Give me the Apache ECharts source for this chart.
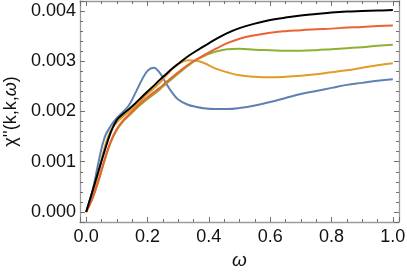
<!DOCTYPE html>
<html>
<head>
<meta charset="utf-8">
<script src="https://cdn.jsdelivr.net/npm/echarts@6/dist/echarts.min.js"></script>
<style>html,body{margin:0;padding:0;background:#fff}#c{width:407px;height:273px}</style>
</head>
<body>
<div id="c"></div>
<script>
const omega  = [0, 0.02, 0.04, 0.06, 0.08, 0.10, 0.12, 0.14, 0.16, 0.18, 0.20, 0.22, 0.24, 0.26, 0.28, 0.30, 0.33, 0.36, 0.39, 0.42, 0.46, 0.50, 0.55, 0.60, 0.65, 0.70, 0.75, 0.80, 0.85, 0.90, 0.95, 1.00];
const blue   = [0, 0.00040, 0.00098, 0.00148, 0.00171, 0.00187, 0.00199, 0.00213, 0.00236, 0.00261, 0.00281, 0.00287, 0.00277, 0.00257, 0.00238, 0.00224, 0.00214, 0.00209, 0.00206, 0.00205, 0.00205, 0.00207, 0.00212, 0.00219, 0.00227, 0.00235, 0.00241, 0.00247, 0.00253, 0.00257, 0.00261, 0.00264];
const orange = [0, 0.00033, 0.00077, 0.00128, 0.00162, 0.00178, 0.00190, 0.00200, 0.00211, 0.00223, 0.00235, 0.00246, 0.00257, 0.00271, 0.00284, 0.00294, 0.00302, 0.00301, 0.00295, 0.00286, 0.00278, 0.00272, 0.00269, 0.00268, 0.00269, 0.00271, 0.00274, 0.00278, 0.00282, 0.00287, 0.00292, 0.00296];
const green  = [0, 0.00026, 0.00061, 0.00102, 0.00138, 0.00163, 0.00180, 0.00192, 0.00204, 0.00215, 0.00225, 0.00234, 0.00244, 0.00255, 0.00265, 0.00275, 0.00290, 0.00303, 0.00312, 0.00319, 0.00324, 0.00325, 0.00323, 0.00322, 0.00321, 0.00321, 0.00322, 0.00324, 0.00326, 0.00328, 0.00331, 0.00333];
const red    = [0, 0.00026, 0.00062, 0.00104, 0.00140, 0.00165, 0.00182, 0.00194, 0.00206, 0.00218, 0.00228, 0.00238, 0.00247, 0.00258, 0.00268, 0.00278, 0.00292, 0.00304, 0.00314, 0.00324, 0.00336, 0.00345, 0.00352, 0.00357, 0.00360, 0.00362, 0.00364, 0.00365, 0.00367, 0.00368, 0.00370, 0.00371];
const black  = [0, 0.00040, 0.00081, 0.00121, 0.00158, 0.00183, 0.00195, 0.00205, 0.00216, 0.00228, 0.00240, 0.00251, 0.00263, 0.00274, 0.00285, 0.00295, 0.00309, 0.00321, 0.00332, 0.00343, 0.00356, 0.00366, 0.00375, 0.00382, 0.00387, 0.00391, 0.00394, 0.00397, 0.00399, 0.00400, 0.00401, 0.00402];
const xTickLabels = ['0.0', '0.2', '0.4', '0.6', '0.8', '1.0'];
const yTickDigits = 3;

const seriesList = [
  {name: 'a', data: blue, color: '#5E81B5'},
  {name: 'b', data: orange, color: '#E19C24'},
  {name: 'c', data: green, color: '#8FB032'},
  {name: 'd', data: red, color: '#EB6235'},
  {name: 'e', data: black, color: '#000000'}
];

const font = 'Liberation Sans, Arial, sans-serif';
const lineC = '#9a9a9a';
const tickC = '#707070';

function xAx(pos, showLabel) {
  return {
    type: 'value', position: pos, min: -0.02, max: 1.02, splitNumber: 5,
    axisLine: {show: true, onZero: false, lineStyle: {color: lineC, width: 1.3}},
    axisTick: {show: true, inside: true, length: 5, lineStyle: {color: tickC, width: 1}},
    minorTick: {show: true, splitNumber: 4, length: 3, lineStyle: {color: tickC, width: 1}},
    splitLine: {show: false},
    axisLabel: {show: showLabel, showMinLabel: false, showMaxLabel: false, margin: 6,
      color: '#111', fontSize: 18, fontFamily: font,
      formatter: v => xTickLabels[Math.round(v / 0.2)] ?? ''},
    name: showLabel ? 'ω' : '', nameLocation: 'middle', nameGap: 27,
    nameTextStyle: {fontSize: 19, fontStyle: 'italic', color: '#111', fontFamily: font}
  };
}
function yAx(pos, showLabel) {
  return {
    type: 'value', position: pos, min: -0.0002, max: 0.0042, splitNumber: 5,
    axisLine: {show: true, onZero: false, lineStyle: {color: lineC, width: 1.3}},
    axisTick: {show: true, inside: true, length: 5, lineStyle: {color: tickC, width: 1}},
    minorTick: {show: true, splitNumber: 5, length: 3, lineStyle: {color: tickC, width: 1}},
    splitLine: {show: false},
    axisLabel: {show: showLabel, showMinLabel: false, showMaxLabel: false, margin: 4,
      color: '#111', fontSize: 18, fontFamily: font,
      formatter: v => v.toFixed(yTickDigits)},
    name: showLabel ? "χ''(k,k,{i|ω})" : '', nameLocation: 'middle', nameGap: 60,
    nameTextStyle: {fontSize: 18, color: '#111', fontFamily: font,
      rich: {i: {fontSize: 18, fontStyle: 'italic', color: '#111', fontFamily: font}}}
  };
}

const chart = echarts.init(document.getElementById('c'), null, {renderer: 'canvas'});
chart.setOption({
  animation: false,
  backgroundColor: '#fff',
  grid: {left: 80, right: 8, top: 1, bottom: 51, containLabel: false, outerBoundsMode: 'none'},
  xAxis: [xAx('bottom', true), xAx('top', false)],
  yAxis: [yAx('left', true), yAx('right', false)],
  series: seriesList.map(s => ({
    type: 'line', name: s.name, xAxisIndex: 0, yAxisIndex: 0,
    data: omega.map((x, i) => [x, s.data[i]]),
    showSymbol: false, symbol: 'none', smooth: 0.4,
    lineStyle: {color: s.color, width: 2},
    itemStyle: {color: s.color}
  }))
});
</script>
</body>
</html>
